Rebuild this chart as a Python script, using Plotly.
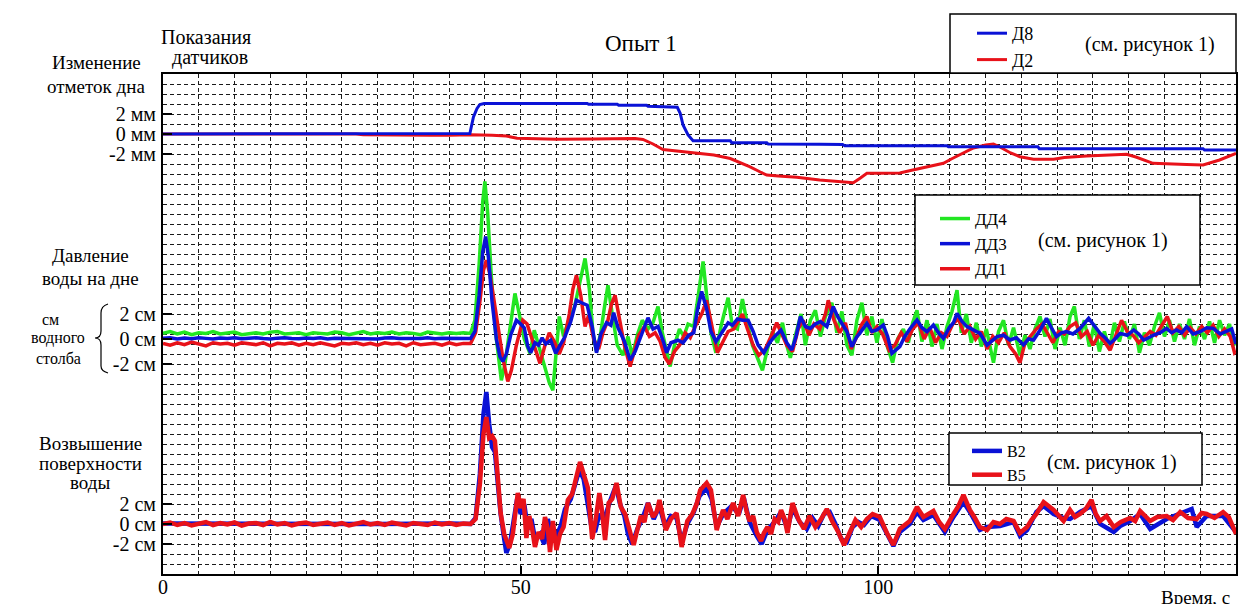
import plotly.graph_objects as go

# ---------------- data ----------------
x_tickvals = [0, 50, 100]
x_ticktext = ["0", "50", "100"]

# top panel: bottom elevation change, mm
d8_t = [0, 10, 20, 30, 40, 42.9, 43.4, 43.9, 44.3, 44.9, 50, 59.3, 59.5, 63.5, 63.7, 67.6, 67.8, 71.9, 72.3, 72.7,
        73.4, 74.1, 79.3, 79.5, 84.4, 84.6, 91.8, 95.0, 95.3, 109.6, 109.8, 122.3, 122.5, 145.4, 145.6, 150]
d8_v = [0, 0, 0, 0, 0, 0.05, 1.7, 2.55, 2.95, 3.05, 3.05, 3.05, 2.97, 2.97, 2.87, 2.87, 2.77, 2.67, 2.07, 0.9,
        -0.1, -0.67, -0.67, -0.87, -0.87, -1.0, -1.03, -1.05, -1.17, -1.17, -1.27, -1.27, -1.47, -1.47, -1.6, -1.6]

d2_t = [0, 27, 28, 30, 37.3, 40, 43, 46, 48, 49.5, 52, 55, 60, 63.4, 66, 67.1, 68.5, 69.9, 72, 74.6,
        77, 79.3, 80.5, 82, 83.5, 84.4, 86, 88.6, 91.8, 94, 95.5, 96.5, 97.5, 98.4, 100, 103, 104.5, 105.8, 107.5, 109.1,
        110.2, 111.4, 113.3, 115, 116.1, 117, 118.5, 119.8, 121.7, 124.5, 126, 129.1, 134.7, 136, 138.4, 143.1, 145.4, 147.7, 150]
d2_v = [0, 0, -0.08, -0.1, -0.13, -0.12, -0.08, -0.12, -0.2, -0.43, -0.48, -0.53, -0.5, -0.43, -0.45, -0.55, -1.0, -1.55, -1.7, -1.9,
        -2.1, -2.45, -2.8, -3.27, -3.8, -4.1, -4.2, -4.33, -4.6, -4.75, -4.85, -4.87, -4.4, -3.93, -3.93, -3.9, -3.65, -3.43, -3.2, -2.93,
        -2.5, -2.1, -1.4, -1.1, -1.0, -1.3, -1.9, -2.27, -2.53, -2.53, -2.35, -2.2, -2.03, -2.3, -2.93, -3.05, -3.1, -2.6, -1.93]

# middle panel: bottom water pressure, cm of water column
base_t = list(range(43))  # quiet part before the wave, 1 s steps
dd4_base = [0.45, 0.6, 0.4, 0.55, 0.35, 0.5, 0.45, 0.6, 0.4, 0.5, 0.55, 0.35, 0.45, 0.5, 0.4, 0.55, 0.6, 0.4, 0.45, 0.5,
            0.35, 0.5, 0.45, 0.4, 0.55, 0.5, 0.35, 0.45, 0.6, 0.4, 0.5, 0.45, 0.55, 0.4, 0.5, 0.45, 0.35, 0.55, 0.5, 0.4,
            0.5, 0.45, 0.5]
dd3_base = [0.05, 0.1, 0.0, 0.08, 0.03, 0.1, 0.05, 0.0, 0.08, 0.05, 0.1, 0.02, 0.06, 0.1, 0.04, 0.0, 0.07, 0.1, 0.05, 0.03,
            0.08, 0.05, 0.1, 0.0, 0.06, 0.05, 0.1, 0.03, 0.07, 0.05, 0.0, 0.08, 0.1, 0.05, 0.03, 0.07, 0.05, 0.1, 0.02, 0.06,
            0.05, 0.08, 0.05]
dd1_base = [-0.35, -0.5, -0.3, -0.45, -0.25, -0.4, -0.55, -0.3, -0.4, -0.35, -0.5, -0.3, -0.4, -0.45, -0.3, -0.55, -0.35, -0.4, -0.3, -0.5,
            -0.35, -0.45, -0.3, -0.4, -0.55, -0.35, -0.4, -0.3, -0.45, -0.35, -0.5, -0.3, -0.4, -0.35, -0.55, -0.3, -0.45, -0.4, -0.35, -0.5,
            -0.3, -0.45, -0.35]

dd4_pts = [(43.0, 0.45), (43.6, 1.5), (44.2, 6.0), (44.7, 11.0), (45.0, 12.6), (45.4, 10.0), (45.9, 5.0), (46.5, 0.5),
           (47.0, -2.0), (47.3, -3.3), (47.8, -2.0), (48.5, 1.0), (49.2, 3.65), (49.8, 2.0), (50.5, 0.0), (51.3, -1.15),
           (51.9, 0.7), (52.5, -0.5), (53.2, -2.0), (54.0, -3.5), (54.5, -4.1), (55.0, -1.0), (55.4, 1.8), (56.0, 0.2),
           (56.7, 1.5), (57.5, 2.5), (58.2, 4.5), (59.0, 6.45), (59.6, 4.0), (60.1, 0.5), (60.6, -1.0), (61.2, 0.5),
           (61.7, 2.5), (62.2, 4.3), (62.8, 2.0), (63.5, -0.5), (64.3, -1.3), (65.0, 0.2), (65.6, -1.4), (66.3, 0.3),
           (67.0, 1.5), (67.8, 0.8), (68.5, 1.3), (69.2, 2.6), (69.8, 0.5), (70.4, -1.0), (70.9, -2.2), (71.5, -0.5),
           (72.2, 0.8), (72.8, 0.2), (73.4, 1.2), (74.2, 1.0), (74.8, 3.5), (75.5, 6.2), (76.0, 3.5), (76.6, 0.5),
           (77.3, -1.1), (78.0, 1.0), (79.0, 3.3), (79.6, 1.0), (80.3, 0.8), (81.0, 3.2), (81.7, 1.2), (82.4, -0.5),
           (83.1, -1.5), (83.8, -2.5), (84.5, -0.8), (85.2, 0.6), (85.9, -0.3), (86.6, 1.3), (87.2, -0.5), (87.7, -1.5),
           (88.5, 0.5), (89.2, 2.0), (89.8, -0.5), (90.5, 1.5), (91.2, 2.3), (91.9, 0.2), (92.6, 1.8), (93.5, 2.9),
           (94.2, 0.5), (94.9, 2.2), (95.6, -0.5), (96.3, -1.3), (97.0, 1.5), (97.7, 2.9), (98.4, 0.3), (99.1, 1.8),
           (99.8, -0.3), (100.5, 1.6), (101.2, -0.5), (102.0, -1.9), (102.7, 0.0), (103.5, 0.8), (104.2, -0.3), (104.8, 1.3),
           (105.4, 2.3), (106.1, -0.2), (106.8, 1.5), (107.5, -0.6), (108.2, 1.2), (108.9, -0.8), (109.6, 1.0), (110.3, 2.2),
           (111.0, 3.9), (111.6, 0.5), (112.3, 2.0), (113.0, -0.3), (113.7, 1.3), (114.4, -0.6), (115.1, 0.8), (116.1, -1.9),
           (116.8, 0.6), (117.5, 1.5), (118.2, -0.5), (118.9, 0.9), (119.8, -1.3), (120.5, 0.3), (121.2, -0.8), (121.9, 0.8),
           (122.6, 1.8), (123.3, 0.2), (124.0, 1.6), (124.7, -0.8), (125.4, 0.9), (126.1, -0.5), (126.8, 1.8), (127.4, 2.6),
           (128.1, 0.0), (128.8, 1.5), (129.5, -0.6), (130.2, 1.2), (130.9, -1.0), (131.6, 0.6), (132.3, -0.8), (133.0, 1.3),
           (133.7, -0.2), (134.4, 1.4), (135.1, 0.0), (135.8, 1.2), (136.5, -1.1), (137.2, 0.5), (137.9, -0.5), (138.6, 1.0),
           (139.3, 2.1), (140.0, 0.2), (140.7, 1.5), (141.4, -0.2), (142.1, 1.2), (142.8, 0.0), (143.5, 1.6), (144.2, -0.5),
           (144.9, 1.0), (145.6, 0.0), (146.3, 1.4), (147.0, -0.3), (147.7, 1.5), (148.4, 0.3), (149.1, 1.2), (149.6, -0.5),
           (150.0, -0.3)]

dd3_pts = [(43.0, 0.05), (43.6, 0.6), (44.2, 3.5), (44.7, 7.0), (45.1, 8.2), (45.5, 6.5), (46.0, 3.0), (46.6, 0.0),
           (47.1, -1.4), (47.5, -1.8), (48.0, -1.2), (48.6, 0.3), (49.4, 1.5), (50.0, 1.2), (50.5, 0.9), (51.0, -0.6),
           (51.4, -1.1), (52.0, -0.3), (52.5, -0.5), (53.0, 0.1), (53.5, -0.4), (54.2, -0.1), (54.9, -1.15), (55.5, -0.5),
           (56.2, 0.2), (57.0, 1.4), (57.8, 3.1), (58.5, 2.9), (59.3, 2.7), (60.0, 1.0), (60.6, -1.1), (61.2, 0.4),
           (62.0, 1.3), (62.6, 1.1), (63.0, 2.1), (63.6, 0.9), (64.5, -0.2), (65.3, -1.7), (66.0, -1.0), (67.0, 0.5),
           (67.8, 1.7), (68.5, 0.8), (69.2, 1.0), (70.0, -0.3), (70.4, -1.1), (71.0, -0.3), (72.0, -0.1), (72.7, -0.3),
           (73.5, 0.3), (74.2, 0.5), (74.7, 2.3), (75.3, 3.8), (76.0, 2.4), (76.6, 0.6), (77.3, -0.2), (78.0, 0.4),
           (79.0, 1.3), (79.6, 1.1), (80.3, 1.6), (81.0, 1.5), (81.8, 1.5), (82.5, 0.6), (83.2, -0.5), (84.0, -1.1),
           (84.8, -0.3), (85.5, 0.2), (86.4, 0.7), (87.2, -0.3), (87.9, -0.88), (88.5, 0.2), (89.1, 1.79), (89.8, 1.0),
           (90.5, 0.85), (91.2, 1.2), (91.9, 1.39), (92.8, 1.0), (93.7, 2.59), (94.3, 1.8), (94.9, 1.25), (95.6, 0.6),
           (96.3, -0.61), (96.9, 0.1), (97.4, 0.45), (98.4, 1.25), (99.1, 0.6), (99.8, 0.72), (100.7, 1.12), (101.3, 0.2),
           (101.9, -1.15), (102.4, -0.9), (103.0, -0.61), (103.7, 0.2), (104.4, 0.8), (105.4, 1.52), (106.1, 0.9), (106.8, 0.59),
           (107.7, 1.12), (108.4, 0.5), (109.1, 0.05), (109.9, 0.9), (110.5, 1.3), (111.0, 2.05), (111.7, 1.4), (112.4, 0.99),
           (113.3, 0.7), (114.2, 0.45), (115.2, -0.48), (115.9, -0.1), (116.6, 0.19), (117.5, 0.3), (118.4, -0.08), (119.3, 0.1),
           (120.3, -0.48), (121.0, 0.0), (121.7, -0.08), (122.6, 0.7), (123.5, 1.65), (124.2, 0.9), (124.9, 0.19), (125.6, 0.5),
           (126.3, 0.59), (127.2, 0.4), (128.2, 0.85), (129.4, 1.65), (130.2, 1.0), (131.0, 0.45), (131.7, 0.1), (132.4, -0.35),
           (133.1, 0.0), (133.8, 0.45), (134.8, 0.3), (135.7, 0.72), (136.4, 0.4), (137.1, -0.08), (137.8, 0.1), (138.5, 0.32),
           (139.4, 0.5), (140.3, 0.85), (141.0, 0.5), (141.7, 0.72), (142.4, 0.5), (143.1, 0.99), (144.0, 0.4), (145.0, 0.59),
           (145.9, 0.9), (146.8, 0.85), (147.8, 0.4), (148.7, 0.59), (149.4, 0.8), (150.0, -0.4)]

dd1_pts = [(43.0, -0.35), (43.7, 0.5), (44.3, 3.0), (44.8, 5.5), (45.2, 6.3), (45.7, 5.2), (46.3, 3.0), (46.9, 0.5),
           (47.5, -1.5), (48.2, -3.4), (48.7, -2.5), (49.4, -0.5), (50.3, 1.5), (50.9, 1.2), (51.6, 0.0), (52.1, -1.0),
           (52.7, -1.95), (53.4, -0.5), (54.0, 0.5), (54.7, -0.2), (55.4, -1.2), (56.0, -0.3), (56.8, 2.0), (57.3, 4.0),
           (57.8, 5.1), (58.4, 3.5), (59.0, 1.0), (59.5, 1.9), (60.2, 0.0), (60.9, -0.8), (61.5, 0.5), (62.2, 1.5),
           (62.7, 2.8), (63.2, 3.5), (63.8, 1.5), (64.5, -0.5), (65.3, -2.2), (65.9, -1.0), (66.5, 0.3), (67.3, 1.0),
           (68.0, 0.2), (68.8, 0.5), (69.5, -0.2), (70.2, -1.5), (70.8, -2.0), (71.5, -1.0), (72.2, -0.5), (73.0, 0.5),
           (73.7, 0.1), (74.4, 1.0), (75.3, 2.0), (76.0, 3.1), (76.6, 1.5), (77.5, -1.1), (78.2, -0.3), (79.0, 0.6),
           (79.8, 0.8), (80.5, 1.5), (81.0, 2.0), (81.7, 0.8), (82.5, -0.5), (83.3, -1.3), (84.2, -0.8), (85.0, 0.2),
           (85.8, 1.3), (86.5, 0.4), (87.2, -0.5), (88.0, -1.0), (88.8, 0.8), (89.5, 1.5), (90.3, 0.3), (91.0, 1.2),
           (91.8, 0.8), (92.6, 2.0), (93.0, 3.1), (93.8, 1.5), (94.6, 0.5), (95.4, 1.3), (96.2, -0.8), (97.0, 0.2),
           (97.7, 1.2), (98.4, 1.8), (99.1, 0.5), (99.8, 1.0), (100.6, 0.4), (101.5, -0.9), (102.3, -0.5), (103.2, 0.5),
           (104.0, -0.2), (104.8, 0.8), (105.6, 1.3), (106.4, 0.0), (107.2, 0.9), (108.0, -0.3), (108.8, 0.5), (109.6, 0.2),
           (110.4, 1.2), (111.2, 1.6), (112.0, 0.4), (112.8, 1.0), (113.6, 0.0), (114.4, 0.6), (115.2, -0.8), (116.0, 0.2),
           (116.8, -0.3), (117.6, 0.5), (118.4, -0.6), (119.2, -1.2), (119.8, -1.9), (120.5, -0.3), (121.3, 0.3), (122.1, 0.8),
           (122.9, 1.2), (123.6, 0.5), (124.4, -0.3), (125.2, 0.6), (126.0, 0.4), (126.8, 1.0), (127.6, 1.3), (128.4, 0.2),
           (129.2, 0.6), (130.0, -0.5), (130.8, 0.3), (131.6, -0.2), (132.4, -0.9), (133.2, 0.3), (134.0, 1.5), (134.8, 0.6),
           (135.6, 0.3), (136.4, -0.3), (137.2, 0.2), (138.0, 0.6), (138.8, 0.3), (139.6, 1.0), (140.4, 1.8), (141.2, 0.5),
           (142.0, 1.0), (142.8, 0.3), (143.6, 0.9), (144.4, 0.4), (145.2, 1.0), (146.0, 0.5), (146.8, 1.1), (147.6, 0.2),
           (148.4, 0.8), (149.2, 0.2), (149.8, -1.1), (150.0, -1.0)]

# bottom panel: water surface elevation, cm
b5_base = [0.0, 0.15, -0.1, 0.1, -0.15, 0.05, 0.2, -0.1, 0.1, -0.05, 0.15, -0.15, 0.05, 0.1, -0.1, 0.2, -0.05, 0.1, -0.15, 0.05,
           0.15, -0.1, 0.0, 0.15, -0.1, 0.1, -0.15, 0.05, 0.2, -0.05, 0.1, -0.1, 0.15, 0.0, -0.15, 0.1, 0.05, -0.1, 0.15, -0.05,
           0.1, -0.1, 0.05]
b5_pts = [(43.0, 0.0), (43.7, 0.5), (44.3, 4.0), (44.8, 9.0), (45.2, 10.7), (45.6, 8.6), (46.0, 8.8), (46.4, 8.3),
          (46.8, 5.0), (47.2, 1.1), (47.7, -1.0), (48.4, -2.4), (48.9, -1.0), (49.3, 1.0), (49.6, 3.1), (50.0, 1.6),
          (50.4, 2.5), (50.8, -1.4), (51.2, 0.8), (51.6, -0.5), (52.0, -2.3), (52.5, -0.8), (53.0, -1.5), (53.4, 0.7),
          (53.8, -0.5), (54.1, -2.8), (54.5, 0.3), (55.0, -2.6), (55.5, -1.0), (56.0, -0.3), (56.6, 2.4), (57.2, 3.0),
          (57.8, 5.0), (58.3, 6.2), (58.8, 5.0), (59.4, 3.6), (59.7, 1.0), (60.0, -1.5), (60.5, 0.5), (61.0, 3.1),
          (61.3, 1.7), (61.8, -1.6), (62.3, 2.1), (62.8, 2.5), (63.4, 4.1), (64.0, 1.7), (64.6, 1.0), (65.2, -0.5),
          (65.8, -2.1), (66.2, -0.9), (66.8, 0.8), (67.3, 0.2), (67.8, 2.1), (68.5, 0.7), (69.0, 1.2), (69.4, 2.4),
          (69.9, 0.5), (70.3, -0.6), (71.0, 0.5), (71.8, 1.1), (72.5, -2.3), (73.3, 0.3), (74.0, 1.0), (74.6, 2.0),
          (75.1, 3.4), (76.0, 4.1), (76.6, 3.4), (77.0, 1.5), (77.4, -0.6), (77.9, 0.6), (78.3, 1.4), (78.9, 0.5),
          (79.7, 2.1), (80.4, 0.8), (81.1, 2.9), (81.6, 1.2), (82.0, 0.3), (82.5, 0.8), (83.0, -0.8), (83.6, -1.7),
          (84.0, -0.9), (84.5, -0.3), (85.0, -1.0), (85.5, 0.5), (86.0, 0.2), (86.4, 1.4), (86.9, 0.5), (87.3, -0.9),
          (88.0, 2.1), (88.8, 0.5), (89.6, -0.5), (90.4, 0.8), (91.2, -0.3), (92.0, 0.5), (92.8, 1.5), (93.6, 0.2),
          (94.4, -0.8), (95.2, -2.1), (96.0, -0.8), (96.8, 0.4), (97.6, -0.3), (98.4, 0.5), (99.2, 1.0), (100.2, 0.7),
          (101.2, -0.9), (102.1, -2.1), (103.0, -0.5), (103.7, -0.1), (104.4, 0.3), (105.4, 1.7), (106.3, 0.7), (107.0, 1.0),
          (107.7, 1.3), (108.5, 0.2), (109.3, -0.5), (110.5, 1.0), (111.2, 1.8), (111.9, 2.9), (112.8, 1.4), (113.5, 0.6),
          (114.2, -0.3), (115.2, -0.6), (116.1, 0.2), (117.0, 0.0), (117.9, 0.5), (118.9, 0.3), (119.8, -0.9), (120.8, -0.3),
          (121.4, 0.4), (122.1, 1.0), (123.1, 2.2), (124.5, 1.4), (125.2, 0.8), (125.9, 0.3), (126.8, 1.4), (127.5, 0.7),
          (128.2, 1.0), (129.0, 1.5), (129.8, 2.4), (130.4, 1.0), (131.0, 0.3), (131.9, 0.8), (132.9, -0.3), (133.9, 0.2),
          (135.2, 0.6), (135.9, 0.3), (136.6, 1.3), (137.3, 0.8), (138.0, 0.3), (139.0, 0.7), (140.3, 0.8), (141.2, 0.4),
          (142.2, 1.2), (143.3, 0.6), (144.5, 0.5), (145.2, 1.1), (145.9, 1.0), (147.0, 0.6), (148.2, 1.2), (149.0, 0.7),
          (149.6, -0.3), (150.0, -1.0)]

b2_pts = [(0, 0.05), (10, 0.0), (20, 0.05), (30, 0.0), (40, 0.05), (43.0, 0.0), (43.7, 0.6), (44.3, 5.0), (44.8, 11.0),
          (45.2, 13.2), (45.6, 10.0), (46.0, 7.7), (46.4, 7.2), (46.8, 4.0), (47.2, 1.0), (47.7, -1.5), (48.0, -2.9),
          (48.5, -2.0), (49.0, 0.0), (49.5, 2.5), (50.0, 1.0), (50.5, 2.0), (51.0, -0.5), (51.5, 0.5), (52.0, -1.5),
          (52.7, -1.0), (53.3, -2.0), (53.8, 0.5), (54.4, -1.5), (55.0, -1.2), (55.6, -0.2), (56.2, 1.5), (57.0, 2.5),
          (57.6, 4.0), (58.2, 5.4), (58.8, 4.5), (59.4, 2.0), (59.9, -0.3), (60.4, -0.8), (61.0, 1.0), (61.5, 0.5),
          (62.0, 1.2), (62.6, 2.5), (63.3, 3.8), (63.9, 2.0), (64.5, 0.8), (65.0, -1.0), (65.6, -2.0), (66.3, -0.5),
          (67.0, 0.5), (67.8, 2.1), (68.6, 0.5), (69.4, 1.8), (70.2, -0.3), (71.0, 0.8), (71.8, 0.6), (72.5, -1.8),
          (73.3, 0.0), (74.2, 1.2), (75.0, 2.8), (76.0, 3.6), (76.7, 2.5), (77.4, -0.3), (78.3, 1.0), (79.5, 1.8),
          (80.5, 1.0), (81.2, 2.6), (82.0, 0.2), (83.0, -1.2), (83.7, -2.0), (84.5, -0.6), (85.5, 0.2), (86.4, 1.2),
          (87.3, -0.5), (88.0, 1.6), (89.0, 0.2), (90.0, -0.5), (90.8, 0.6), (91.6, -0.2), (92.4, 1.0), (93.2, 1.2),
          (94.0, 0.0), (94.8, -1.5), (95.6, -1.8), (96.4, -0.3), (97.2, 0.2), (98.0, -0.1), (99.0, 0.8), (100.2, 0.4),
          (101.2, -1.1), (102.1, -2.2), (103.0, -0.8), (104.4, 0.0), (105.4, 1.2), (106.3, 0.4), (107.7, 0.9), (109.3, -0.8),
          (110.5, 0.7), (111.9, 2.2), (112.8, 1.2), (114.2, -0.6), (115.2, -0.3), (117.0, -0.2), (118.9, 0.2), (119.8, -1.2),
          (120.8, -0.6), (122.1, 1.2), (123.1, 1.8), (124.5, 1.0), (125.9, 0.6), (126.8, 0.5), (128.2, 1.2), (129.8, 1.8),
          (131.0, 0.0), (132.9, -0.8), (133.8, -0.2), (135.2, 0.3), (136.6, 1.0), (138.0, -0.5), (140.3, 0.5), (142.2, 1.0),
          (143.8, 1.5), (144.5, -0.3), (145.9, 0.8), (148.2, 0.8), (149.6, -0.5), (150.0, -0.8)]

# panel tick labels
top_tickvals = [2, 0, -2]
top_ticktext = ["2 мм", "0 мм", "-2 мм"]
cm_tickvals = [2, 0, -2]
cm_ticktext = ["2 см", "0 см", "-2 см"]

# ---------------- layout helpers ----------------
W, H = 1239, 604
ML, MR, MT, MB = 163, 3, 74, 30
PW, PH = W - ML - MR, H - MT - MB


def fx(px):
    return (px - ML) / PW


def fy(py):
    return (H - MB - py) / PH


SERIF = "Liberation Serif"
BLUE = "#0a12d6"
RED = "#e8121a"
GREEN = "#22e622"
GRID = "#1a1a1a"
DASH = "4px,3px"


def tv(pts):
    return [p[0] for p in pts], [p[1] for p in pts]


fig = go.Figure()
fig.add_trace(go.Scatter(x=[], y=[], showlegend=False, hoverinfo="skip"))


def add(name, t, v, color, yaxis, legend, width, rank):
    fig.add_trace(go.Scatter(x=t, y=v, mode="lines", name=name, yaxis=yaxis, legend=legend,
                             legendrank=rank, line=dict(color=color, width=width), hoverinfo="skip"))


add("Д2", d2_t, d2_v, RED, "y2", "legend", 3, 2)
add("Д8", d8_t, d8_v, BLUE, "y2", "legend", 3, 1)
t4, v4 = tv(dd4_pts)
t3, v3 = tv(dd3_pts)
t1, v1 = tv(dd1_pts)
add("ДД4", base_t + t4, dd4_base + v4, GREEN, "y3", "legend2", 3.5, 1)
add("ДД1", base_t + t1, dd1_base + v1, RED, "y3", "legend2", 3.5, 3)
add("ДД3", base_t + t3, dd3_base + v3, BLUE, "y3", "legend2", 3.5, 2)
tb2, vb2 = tv(b2_pts)
tb5, vb5 = tv(b5_pts)
add("В2", tb2, vb2, BLUE, "y4", "legend3", 4.5, 1)
add("В5", base_t + tb5, b5_base + vb5, RED, "y4", "legend3", 4.5, 2)

panel_axis = dict(overlaying="y", anchor="x", side="left", showgrid=False, zeroline=False, showline=False,
                  ticks="inside", ticklen=9, tickwidth=1.5, tickcolor="black",
                  tickfont=dict(family=SERIF, size=20, color="black"), ticklabelstandoff=6)


def legend_cfg(px, py, size):
    return dict(x=fx(px), y=fy(py), xanchor="left", yanchor="top", bgcolor="rgba(0,0,0,0)", borderwidth=0,
                font=dict(family=SERIF, size=size, color="black"), tracegroupgap=0)


fig.update_layout(
    width=W, height=H, margin=dict(l=ML, r=MR, t=MT, b=MB, autoexpand=False),
    paper_bgcolor="white", plot_bgcolor="white",
    font=dict(family=SERIF, size=20, color="black"),
    xaxis=dict(range=[0, 150], tickvals=x_tickvals, ticktext=x_ticktext, ticks="inside", ticklen=8,
               tickcolor="black", tickwidth=1.5, showline=True, linecolor="black", linewidth=1.5, mirror=True,
               showgrid=True, gridcolor=GRID, griddash=DASH, gridwidth=1, zeroline=False,
               minor=dict(dtick=5, tick0=0, showgrid=True, gridcolor=GRID, griddash=DASH, gridwidth=1, ticks=""),
               tickfont=dict(family=SERIF, size=20, color="black"), ticklabelstandoff=-6),
    yaxis=dict(range=[0, 50], dtick=1, showgrid=True, gridcolor=GRID, griddash=DASH, gridwidth=1,
               showticklabels=False, ticks="", showline=True, linecolor="black", linewidth=1.5, mirror=True,
               zeroline=False),
    yaxis2=dict(range=[-44, 6], tickvals=top_tickvals, ticktext=top_ticktext, **panel_axis),
    yaxis3=dict(range=[-18.8, 21.2], tickvals=cm_tickvals, ticktext=cm_ticktext, **panel_axis),
    yaxis4=dict(range=[-5, 45], tickvals=cm_tickvals, ticktext=cm_ticktext, **panel_axis),
    legend=legend_cfg(972, 15, 18),
    legend2=legend_cfg(935, 201, 17),
    legend3=legend_cfg(967, 434, 16),
    showlegend=True,
)

for (x0, y0, x1, y1) in [(950, 14, 1236, 73), (915, 195, 1200, 285), (949, 433, 1202, 485)]:
    fig.add_shape(type="rect", xref="paper", yref="paper", x0=fx(x0), x1=fx(x1), y0=fy(y1), y1=fy(y0),
                  fillcolor="white", line=dict(color="black", width=1.5), layer="above")

pts_brace = [(108, 304), (101, 306), (101, 313), (101, 331), (101, 338), (95, 338), (101, 338), (101, 345),
             (101, 366), (101, 371), (108, 373)]
b = [(fx(x), fy(y)) for x, y in pts_brace]
path = (f"M{b[0][0]},{b[0][1]} Q{b[1][0]},{b[1][1]} {b[2][0]},{b[2][1]} L{b[3][0]},{b[3][1]} "
        f"Q{b[4][0]},{b[4][1]} {b[5][0]},{b[5][1]} Q{b[6][0]},{b[6][1]} {b[7][0]},{b[7][1]} "
        f"L{b[8][0]},{b[8][1]} Q{b[9][0]},{b[9][1]} {b[10][0]},{b[10][1]}")
fig.add_shape(type="path", path=path, xref="paper", yref="paper", line=dict(color="black", width=1.2))


def label(text, px, py, size=20, anchor="center", family=SERIF):
    fig.add_annotation(text=text, x=fx(px), y=fy(py), xref="paper", yref="paper", showarrow=False,
                       xanchor=anchor, yanchor="middle", font=dict(family=family, size=size, color="black"))


label("Опыт 1", 641, 44, size=23)
label("Показания", 206, 37, size=20)
label("датчиков", 210, 58, size=20)
label("Изменение", 96, 63, size=19)
label("отметок дна", 96, 86, size=19)
label("Давление", 90, 255, size=19)
label("воды на дне", 90, 278, size=19)
label("см", 50, 319, size=16)
label("водного", 58, 338, size=16)
label("столба", 58, 358, size=16)
label("Возвышение", 90, 443, size=19)
label("поверхности", 90, 463, size=19)
label("воды", 90, 482, size=19)
label("Время, с", 1159, 597, size=19, anchor="left")
label("(см. рисунок 1)", 1150, 45, size=20)
label("(см. рисунок 1)", 1103, 241, size=20)
label("(см. рисунок 1)", 1112, 462, size=20)

fig.write_html("out.html", config={"displayModeBar": False},
               post_script="document.body.style.margin='0';document.body.style.overflow='hidden';")
